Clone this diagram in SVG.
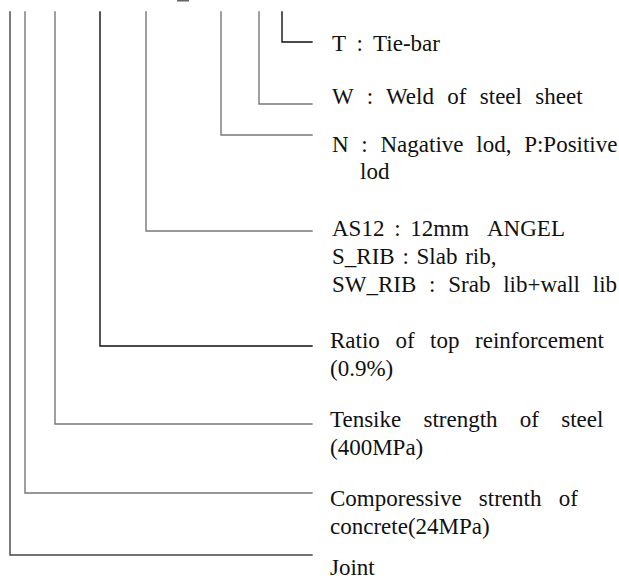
<svg xmlns="http://www.w3.org/2000/svg" width="619" height="579" viewBox="0 0 619 579">
<style>
.c{fill:none;stroke-width:1.4;stroke-linecap:square}
.k{stroke:#111}
.g{stroke:#777}
.d{stroke:#444}
text{font-family:"Liberation Serif","Times New Roman",serif;font-size:23px;fill:#111}
</style>
<rect width="619" height="579" fill="#fff"/>
<rect x="177" y="0" width="12" height="1.5" fill="#666"/>
<g id="connectors">
<path class="c k" d="M282,12V42H312"/>
<path class="c g" d="M259,12V104H312"/>
<path class="c g" d="M221,12V135H312"/>
<path class="c g" d="M146,12V231H312"/>
<path class="c k" d="M100,12V346H312"/>
<path class="c g" d="M55,12V424H312"/>
<path class="c g" d="M25,12V493H312"/>
<path class="c d" d="M10,12V555H312"/>
</g>
<g id="T"><text x="332" y="51" word-spacing="5">T : Tie-bar</text></g>
<g id="W"><text x="332" y="104" word-spacing="7.6">W : Weld of steel sheet</text></g>
<g id="N"><text x="332" y="152" word-spacing="7">N : Nagative lod, P:Positive</text><text x="360" y="179">lod</text></g>
<g id="AS"><text x="332" y="236" word-spacing="4">AS12 : 12mm <tspan x="487">ANGEL</tspan></text><text x="332" y="264" word-spacing="2">S_RIB : Slab rib,</text><text x="332" y="292" word-spacing="7">SW_RIB : Srab lib+wall lib</text></g>
<g id="Ratio"><text x="330" y="348" word-spacing="9.8">Ratio of top reinforcement</text><text x="330" y="376">(0.9%)</text></g>
<g id="Tensike"><text x="330" y="427" word-spacing="16.5">Tensike strength of steel</text><text x="330" y="455">(400MPa)</text></g>
<g id="Comp"><text x="330" y="506" word-spacing="11.5">Comporessive strenth of</text><text x="330" y="534">concrete(24MPa)</text></g>
<g id="Joint"><text x="330" y="575">Joint</text></g>
</svg>
